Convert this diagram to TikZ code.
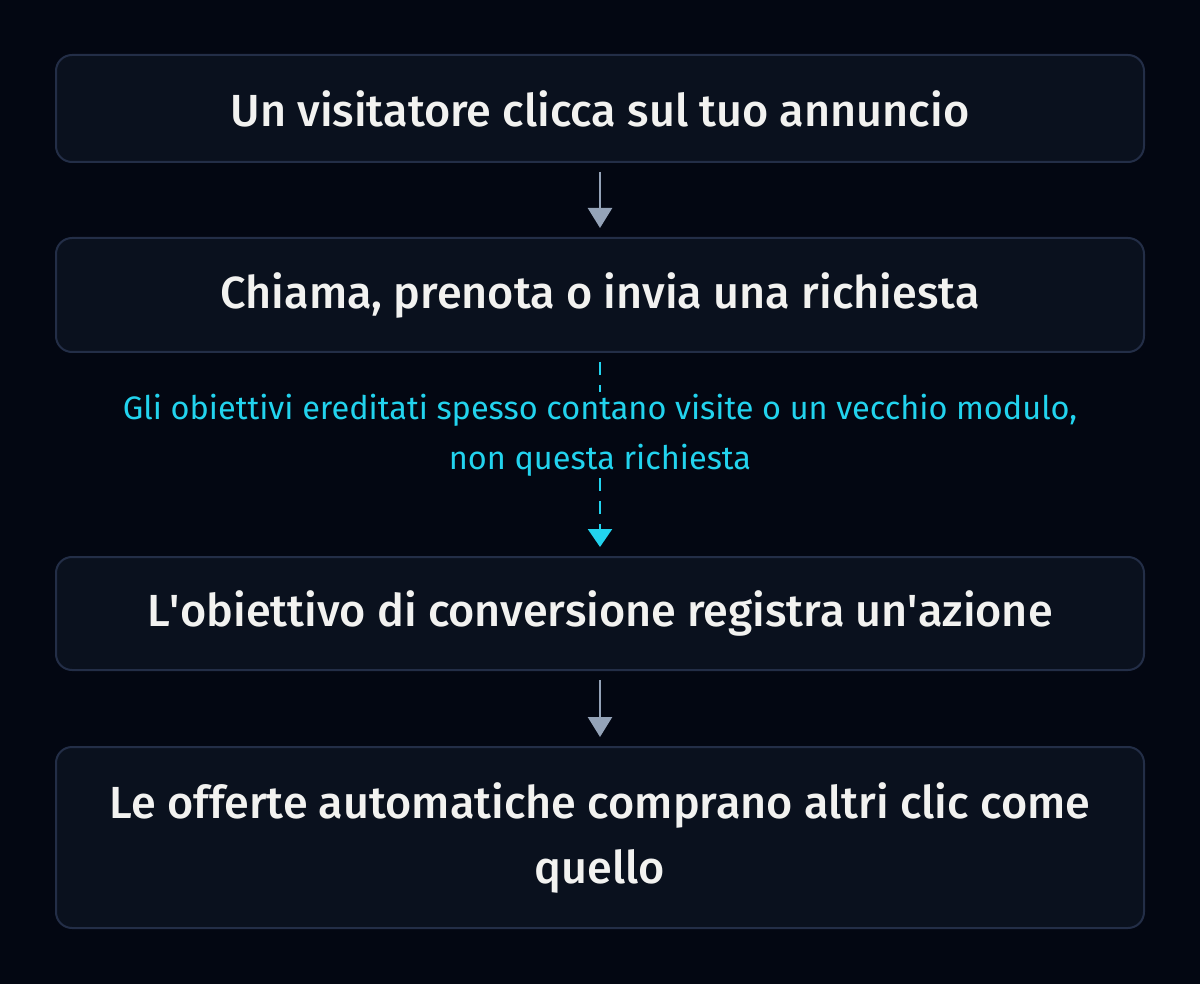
\documentclass[tikz,border=0pt]{standalone}
\usepackage{fontspec}
\setmainfont{Fira Sans}[BoldFont={Fira Sans Medium}]
\usetikzlibrary{arrows.meta}
\definecolor{bg}{HTML}{030712}
\definecolor{boxfill}{HTML}{0A111E}
\definecolor{boxline}{HTML}{232E47}
\definecolor{txt}{HTML}{F2F2F0}
\definecolor{arr}{HTML}{94A3B8}
\definecolor{cy}{HTML}{22D3EE}
\begin{document}
\begin{tikzpicture}[x=1pt,y=-1pt,
  stepbox/.style={draw=boxline, line width=2pt, fill=boxfill, rounded corners=16pt,
    minimum width=1088pt, align=center, text=txt, inner sep=0pt,
    font=\fontsize{45}{65}\selectfont\bfseries},
  flow/.style={draw=arr, line width=2.5pt, -{Triangle[width=24pt,length=20pt]}, shorten <=9pt, shorten >=9pt},
  dflow/.style={draw=cy, line width=2.5pt, dash pattern=on 13pt off 10pt},
  lbl/.style={text=cy, align=center, inner sep=0pt, font=\fontsize{32.5}{50}\selectfont}
]
\fill[bg] (0,0) rectangle (1200,984);
\useasboundingbox (0,0) rectangle (1200,984);
\node[stepbox, minimum height=107pt] (b1) at (600,108.5) {Un visitatore clicca sul tuo annuncio};
\node[stepbox, minimum height=114pt] (b2) at (600,295) {Chiama, prenota o invia una richiesta};
\node[lbl] (l) at (600,435) {Gli obiettivi ereditati spesso contano visite o un vecchio modulo,\\non questa richiesta};
\node[stepbox, minimum height=113pt] (b3) at (600,613.5) {L\textquotesingle obiettivo di conversione registra un\textquotesingle azione};
\node[stepbox, minimum height=181pt] (b4) at (600,837.5) {Le offerte automatiche comprano altri clic come\\quello};
\draw[flow] (b1) -- (b2);
\draw[dflow, shorten <=9pt, shorten >=2pt] (b2.south) -- (l.north);
\draw[dflow, -{Triangle[width=24pt,length=18pt]}, shorten <=2pt, shorten >=9pt] (l.south) -- (b3.north);
\draw[flow] (b3) -- (b4);
\end{tikzpicture}
\end{document}
